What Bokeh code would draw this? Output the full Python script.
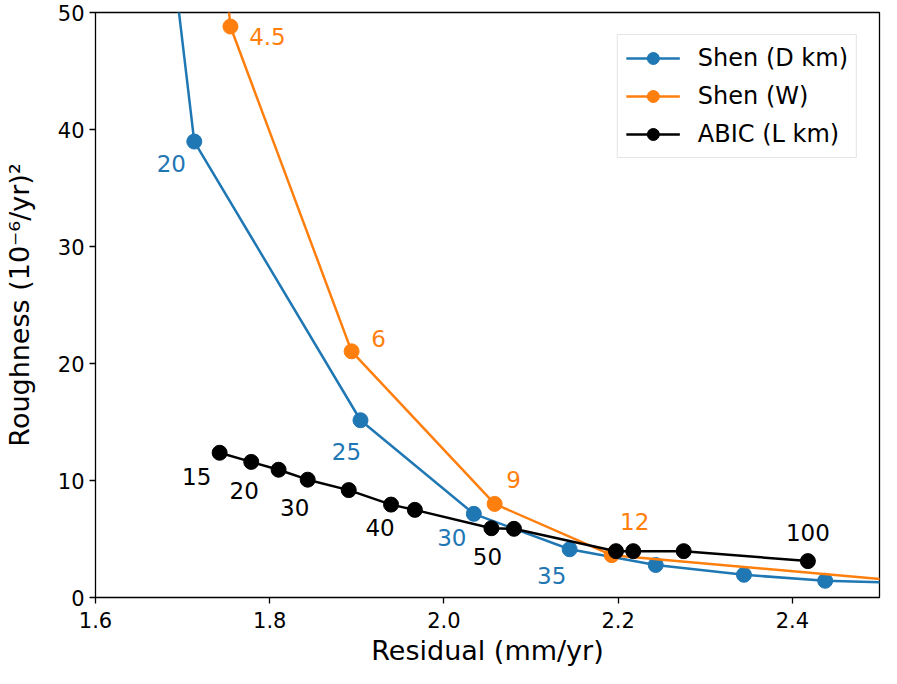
from bokeh.plotting import figure
from bokeh.models import Range1d, FixedTicker, ColumnDataSource
from bokeh.core.properties import value
from bokeh.embed import file_html
from bokeh.resources import INLINE

# ---- data ----
shen_d_param = [15, 20, 25, 30, 35, 40, 45, 50, 55]
shen_d_residual = [1.672, 1.7134, 1.9042, 2.0343, 2.1443, 2.2431, 2.3444, 2.4376, 2.55]
shen_d_roughness = [65.0, 38.97, 15.15, 7.15, 4.12, 2.78, 1.94, 1.43, 1.2]

shen_w_param = [3, 4.5, 6, 9, 12, 18]
shen_w_residual = [1.734, 1.7549, 1.8940, 2.0582, 2.1926, 2.62]
shen_w_roughness = [65.0, 48.8, 21.04, 8.0, 3.62, 0.8]

abic_param = [15, 20, 25, 30, 35, 40, 45, 50, 60, 70, 80, 90, 100]
abic_residual = [1.7425, 1.7788, 1.8102, 1.8436, 1.8907, 1.9393, 1.9666,
                 2.0545, 2.0804, 2.1975, 2.2173, 2.2752, 2.4178]
abic_roughness = [12.37, 11.59, 10.92, 10.07, 9.18, 7.94, 7.49,
                  5.92, 5.87, 3.96, 3.96, 3.96, 3.11]

# which points carry a text label
shen_d_labeled = [20, 25, 30, 35]
shen_w_labeled = [4.5, 6, 9, 12]
abic_labeled = [15, 20, 30, 40, 50, 100]

x_ticks = [1.6, 1.8, 2.0, 2.2, 2.4]
y_ticks = [0, 10, 20, 30, 40, 50]

# ---- styles (screen-pixel offsets of labels) ----
shen_d_offsets = [(-23, 22), (-14, 31), (-22, 24), (-18, 26)]
shen_w_offsets = [(37, 10), (27, -13), (19, -24), (23, -34)]
abic_offsets = [(-23, 24), (-7, 29), (-13, 28), (-11, 23), (-4, 28), (0, -29)]

BLUE = "#1f77b4"
ORANGE = "#ff7f0e"
BLACK = "#000000"
FONT = "DejaVu Sans"

p = figure(width=881, height=668, output_backend="svg", toolbar_location=None,
           x_range=Range1d(1.6, 2.5), y_range=Range1d(0, 50),
           min_border_left=88, min_border_right=2, min_border_top=12,
           min_border_bottom=60)

p.xgrid.visible = False
p.ygrid.visible = False
p.outline_line_color = "black"
p.outline_line_width = 1.3
p.background_fill_color = "white"
p.border_fill_color = "white"

series = [
    ("Shen (D km)", shen_d_param, shen_d_residual, shen_d_roughness, BLUE, shen_d_labeled, shen_d_offsets),
    ("Shen (W)", shen_w_param, shen_w_residual, shen_w_roughness, ORANGE, shen_w_labeled, shen_w_offsets),
    ("ABIC (L km)", abic_param, abic_residual, abic_roughness, BLACK, abic_labeled, abic_offsets),
]

for name, par, xs, ys, col, labeled, offs in series:
    p.line(xs, ys, line_color=col, line_width=2.5, legend_label=name)
    p.scatter(xs, ys, size=15, fill_color=col, line_color=col, legend_label=name)
    lx, ly, lt, ox, oy = [], [], [], [], []
    for v, (dx, dy) in zip(labeled, offs):
        i = par.index(v)
        lx.append(xs[i]); ly.append(ys[i])
        lt.append(f"{v:g}")
        ox.append(dx); oy.append(dy)
    src = ColumnDataSource(dict(x=lx, y=ly, t=lt, ox=ox, oy=oy))
    p.text(x="x", y="y", text="t", x_offset="ox", y_offset="oy", source=src,
           text_color=col, text_font=value(FONT), text_font_size="23px",
           text_align="center", text_baseline="middle")

for ax in (p.xaxis[0], p.yaxis[0]):
    ax.axis_line_color = None
    ax.major_tick_in = 0
    ax.major_tick_out = 6
    ax.major_tick_line_color = "black"
    ax.major_tick_line_width = 1.3
    ax.minor_tick_line_color = None
    ax.major_label_text_font = FONT
    ax.major_label_text_font_size = "21px"
    ax.major_label_text_color = "black"
    ax.axis_label_text_font = FONT
    ax.axis_label_text_font_size = "27px"
    ax.axis_label_text_font_style = "normal"
    ax.axis_label_text_color = "black"

p.xaxis.ticker = FixedTicker(ticks=x_ticks)
p.yaxis.ticker = FixedTicker(ticks=y_ticks)
p.xaxis.major_label_overrides = {t: f"{t:.1f}" for t in x_ticks}
p.xaxis.axis_label = "Residual (mm/yr)"
p.yaxis.axis_label = "Roughness (10\u207b\u2076/yr)\u00b2"
p.xaxis.major_label_standoff = 8
p.yaxis.major_label_standoff = 5
p.xaxis.axis_label_standoff = 4
p.yaxis.axis_label_standoff = 20

lg = p.legend[0]
lg.location = "top_right"
lg.margin = 22
lg.padding = 8
lg.spacing = 8
lg.glyph_width = 54
lg.glyph_height = 30
lg.label_standoff = 18
lg.label_text_font = FONT
lg.label_text_font_size = "24px"
lg.label_text_color = "black"
lg.border_line_color = "#cccccc"
lg.border_line_width = 1.5
lg.background_fill_alpha = 1.0

open("out.html", "w").write(file_html(p, INLINE))
